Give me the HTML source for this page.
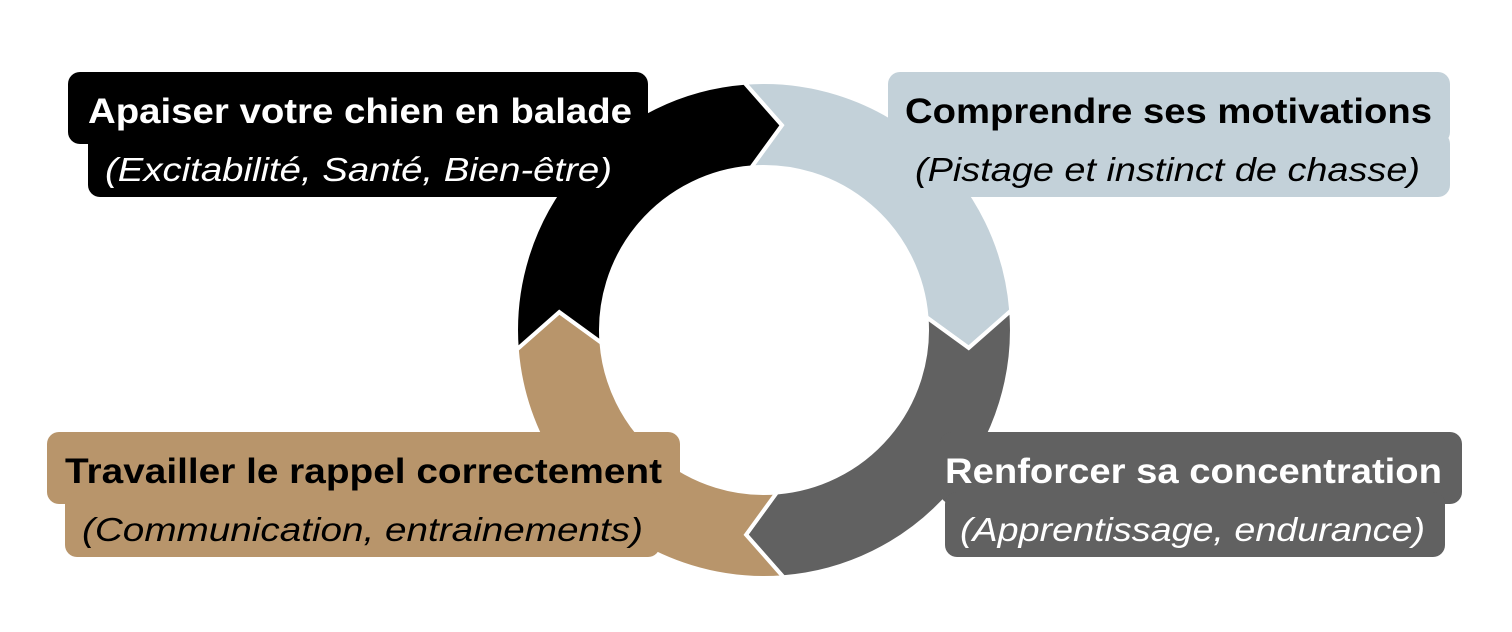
<!DOCTYPE html>
<html><head><meta charset="utf-8"><style>
html,body{margin:0;padding:0;background:#fff;}
svg{display:block;}
.t{font-family:"Liberation Sans",sans-serif;font-weight:bold;font-size:35px;}
.s{font-family:"Liberation Sans",sans-serif;font-style:italic;font-size:33px;}
</style></head><body>
<svg width="1512" height="632" viewBox="0 0 1512 632" xmlns="http://www.w3.org/2000/svg">
<g stroke="#fff" stroke-width="4" stroke-linejoin="miter">
<path fill="#c3d1d9" d="M744.5,82.8 A248,248 0 0 1 1011.2,310.5 L968.7,347.9 L926.5,317.2 A163,163 0 0 0 751.2,167.5 L781.9,125.3 Z"/>
<path fill="#616161" d="M1011.2,310.5 A248,248 0 0 1 783.5,577.2 L746.1,534.7 L776.8,492.5 A163,163 0 0 0 926.5,317.2 L968.7,347.9 Z"/>
<path fill="#b8956b" d="M783.5,577.2 A248,248 0 0 1 516.8,349.5 L559.3,312.1 L601.5,342.8 A163,163 0 0 0 776.8,492.5 L746.1,534.7 Z"/>
<path fill="#000" d="M516.8,349.5 A248,248 0 0 1 744.5,82.8 L781.9,125.3 L751.2,167.5 A163,163 0 0 0 601.5,342.8 L559.3,312.1 Z"/>
</g>
<rect x="68" y="72" width="580" height="72" rx="12" fill="#000"/>
<rect x="88" y="132" width="540" height="65" rx="12" fill="#000"/>
<text class="t" x="88" y="123" fill="#fff" textLength="544" lengthAdjust="spacingAndGlyphs">Apaiser votre chien en balade</text>
<text class="s" x="105" y="181" fill="#fff" textLength="507" lengthAdjust="spacingAndGlyphs">(Excitabilité, Santé, Bien-être)</text>
<rect x="888" y="72" width="562" height="72" rx="12" fill="#c3d1d9"/>
<rect x="900" y="132" width="550" height="65" rx="12" fill="#c3d1d9"/>
<text class="t" x="905" y="123" fill="#000" textLength="527" lengthAdjust="spacingAndGlyphs">Comprendre ses motivations</text>
<text class="s" x="915" y="181" fill="#000" textLength="505" lengthAdjust="spacingAndGlyphs">(Pistage et instinct de chasse)</text>
<rect x="940" y="432" width="522" height="72" rx="12" fill="#616161"/>
<rect x="945" y="492" width="500" height="65" rx="12" fill="#616161"/>
<text class="t" x="945" y="483" fill="#fff" textLength="497" lengthAdjust="spacingAndGlyphs">Renforcer sa concentration</text>
<text class="s" x="960" y="541" fill="#fff" textLength="465" lengthAdjust="spacingAndGlyphs">(Apprentissage, endurance)</text>
<rect x="47" y="432" width="633" height="72" rx="12" fill="#b8956b"/>
<rect x="65" y="492" width="595" height="65" rx="12" fill="#b8956b"/>
<text class="t" x="65" y="483" fill="#000" textLength="597" lengthAdjust="spacingAndGlyphs">Travailler le rappel correctement</text>
<text class="s" x="82" y="541" fill="#000" textLength="561" lengthAdjust="spacingAndGlyphs">(Communication, entrainements)</text>
</svg>
</body></html>
